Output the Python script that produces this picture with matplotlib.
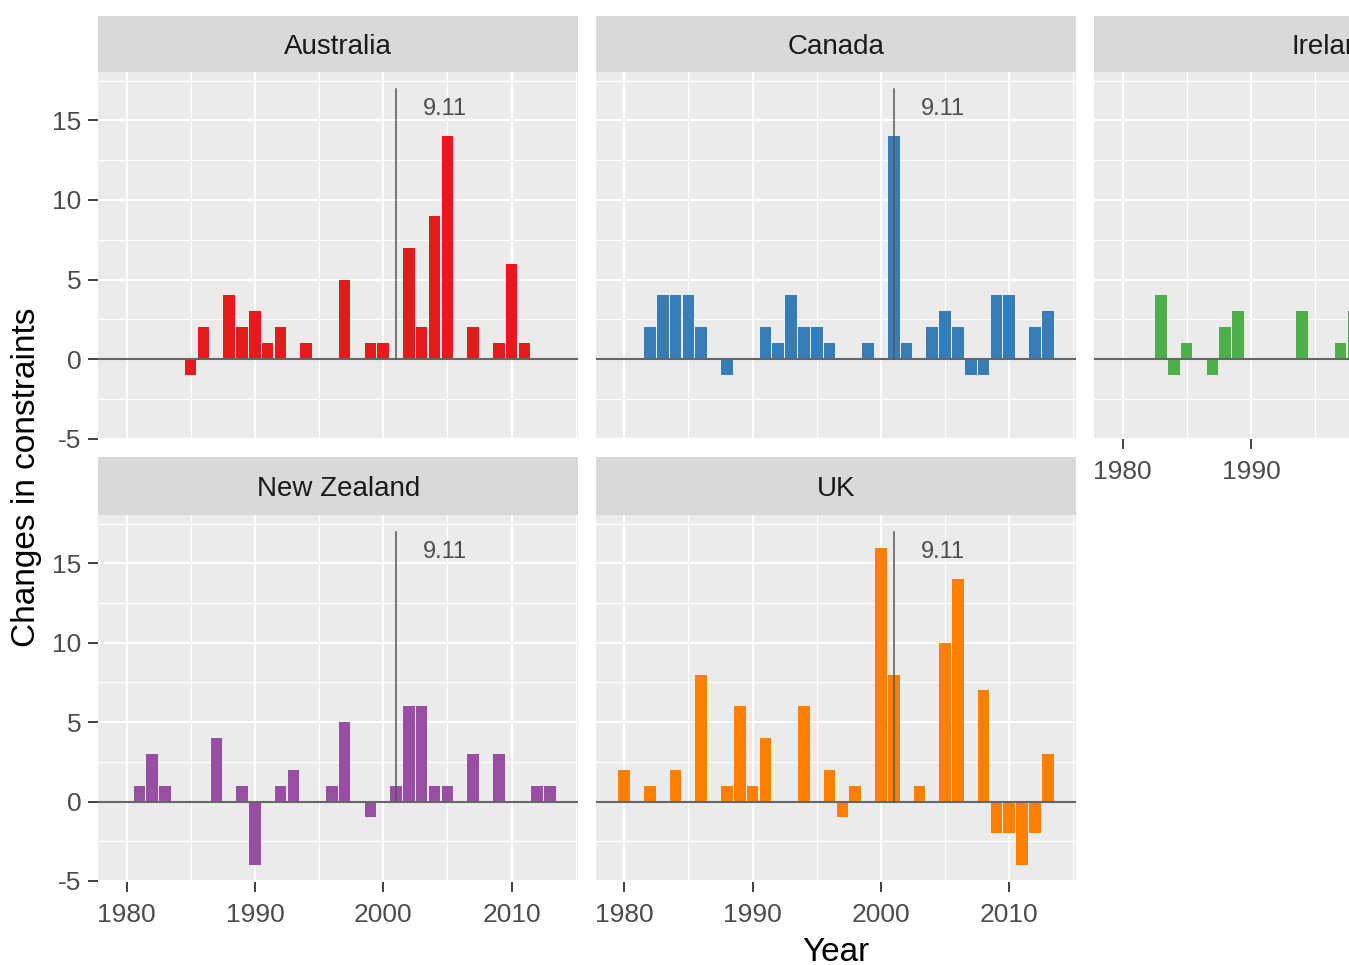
import matplotlib
matplotlib.use("Agg")
import matplotlib.pyplot as plt

plt.rcParams['font.family'] = ['Liberation Sans', 'DejaVu Sans']
plt.rcParams['axes.unicode_minus'] = False

# data
countries = ["Australia", "Canada", "Ireland", "New Zealand", "UK"]
colors = ["#E41A1C", "#377EB8", "#4DAF4A", "#984EA3", "#FF7F00"]

years_au = [1985, 1986, 1988, 1989, 1990, 1991, 1992, 1994, 1997, 1999, 2000,
            2002, 2003, 2004, 2005, 2007, 2009, 2010, 2011]
vals_au = [-1, 2, 4, 2, 3, 1, 2, 1, 5, 1, 1, 7, 2, 9, 14, 2, 1, 6, 1]

years_ca = [1982, 1983, 1984, 1985, 1986, 1988, 1991, 1992, 1993, 1994, 1995,
            1996, 1999, 2001, 2002, 2004, 2005, 2006, 2007, 2008, 2009, 2010,
            2012, 2013]
vals_ca = [2, 4, 4, 4, 2, -1, 2, 1, 4, 2, 2, 1, 1, 14, 1, 2, 3, 2, -1, -1, 4, 4, 2, 3]

# only the visible part of the Ireland panel
years_ie = [1983, 1984, 1985, 1987, 1988, 1989, 1994, 1997, 1998]
vals_ie = [4, -1, 1, -1, 2, 3, 3, 1, 3]

years_nz = [1981, 1982, 1983, 1987, 1989, 1990, 1992, 1993, 1996, 1997, 1999,
            2001, 2002, 2003, 2004, 2005, 2007, 2009, 2012, 2013]
vals_nz = [1, 3, 1, 4, 1, -4, 1, 2, 1, 5, -1, 1, 6, 6, 1, 1, 3, 3, 1, 1]

years_uk = [1980, 1982, 1984, 1986, 1988, 1989, 1990, 1991, 1994, 1996, 1997,
            1998, 2000, 2001, 2003, 2005, 2006, 2008, 2009, 2010, 2011, 2012, 2013]
vals_uk = [2, 1, 2, 8, 1, 6, 1, 4, 6, 2, -1, 1, 16, 8, 1, 10, 14, 7, -2, -2, -4, -2, 3]

all_years = [years_au, years_ca, years_ie, years_nz, years_uk]
all_vals = [vals_au, vals_ca, vals_ie, vals_nz, vals_uk]

EVENT_YEAR = 2001
EVENT_TOP = 17
EVENT_LABEL = "9.11"
LABEL_X, LABEL_Y = 2004.8, 15.7

W, H = 1349, 965
fig = plt.figure(figsize=(W / 100, H / 100), dpi=100)


def px_rect(left, top, width, height):
    return [left / W, 1 - (top + height) / H, width / W, height / H]


col_left = [98.3, 596.0, 1094.3]
panel_w = 480
rows = [(16, 72, 439.3), (457.3, 515, 881.7)]  # strip top, panel top, panel bottom

positions = [(0, 0), (0, 1), (0, 2), (1, 0), (1, 1)]

for i, name in enumerate(countries):
    r, c = positions[i]
    strip_top, panel_top, panel_bottom = rows[r]
    left = col_left[c]

    sax = fig.add_axes(px_rect(left, strip_top, panel_w, panel_top - strip_top))
    sax.set_facecolor("#D9D9D9")
    sax.set_xticks([])
    sax.set_yticks([])
    for s in sax.spines.values():
        s.set_visible(False)
    sax.text(0.5, 0.45, name, ha="center", va="center", fontsize=20,
             color="#1A1A1A", transform=sax.transAxes)

    ax = fig.add_axes(px_rect(left, panel_top, panel_w, panel_bottom - panel_top))
    ax.set_facecolor("#EBEBEB")
    ax.bar(all_years[i], all_vals[i], width=0.9, color=colors[i], zorder=2)
    ax.axhline(0, color="#666666", lw=1.5, zorder=3)
    ax.plot([EVENT_YEAR, EVENT_YEAR], [0, EVENT_TOP], color="#555555", lw=1.1, zorder=3)
    ax.text(LABEL_X, LABEL_Y, EVENT_LABEL, ha="center", va="center", fontsize=17,
            color="#4D4D4D", zorder=4)

    ax.set_xlim(1977.8, 2015.2)
    ax.set_ylim(-5.05, 18.05)
    ax.set_xticks([1980, 1990, 2000, 2010])
    ax.set_xticks([1985, 1995, 2005, 2015], minor=True)
    ax.set_yticks([-5, 0, 5, 10, 15])
    ax.set_yticks([-2.5, 2.5, 7.5, 12.5, 17.5], minor=True)
    ax.grid(which="major", color="white", lw=1.5, zorder=0)
    ax.grid(which="minor", color="white", lw=0.8, zorder=0)
    ax.set_axisbelow(True)
    for s in ax.spines.values():
        s.set_visible(False)

    show_x = (r == 1) or (c == 2)
    show_y = (c == 0)
    ax.tick_params(which="minor", length=0)
    ax.tick_params(axis="x", which="major", length=7 if show_x else 0, width=1.3,
                   color="#333333", labelsize=19, labelcolor="#4D4D4D", pad=8,
                   labelbottom=show_x)
    ax.tick_params(axis="y", which="major", length=7 if show_y else 0, width=1.3,
                   color="#333333", labelsize=19, labelcolor="#4D4D4D", pad=5,
                   labelleft=show_y)

fig.text(836 / W, 1 - 961 / H, "Year", ha="center", va="baseline", fontsize=24, color="black")
fig.text(27 / W, 1 - 477 / H, "Changes in constraints", ha="center", va="center",
         rotation=90, fontsize=24, color="black")

fig.savefig("out.png", dpi=100)
